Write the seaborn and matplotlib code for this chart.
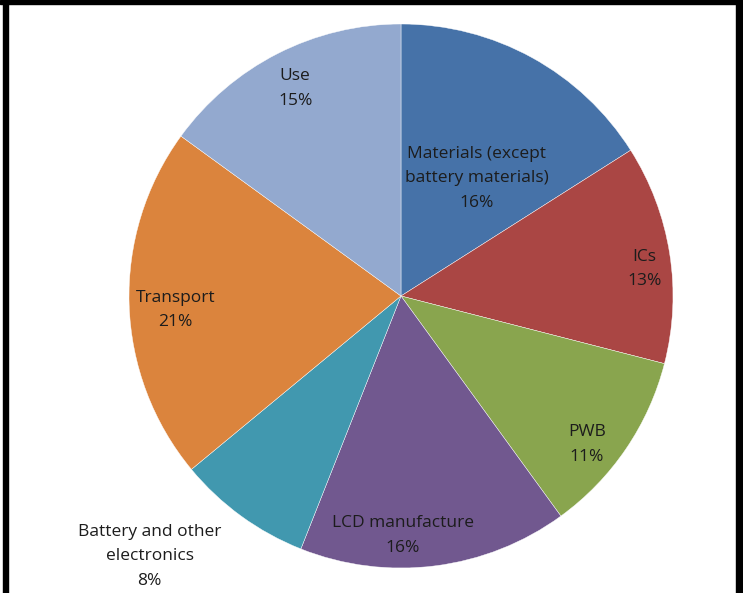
import numpy as np
import matplotlib
matplotlib.use("Agg")
import matplotlib.pyplot as plt
import seaborn as sns
from matplotlib.patches import Rectangle

# Data
categories = ["Materials (except\nbattery materials)", "ICs", "PWB", "LCD manufacture",
              "Battery and other\nelectronics", "Transport", "Use"]
shares = [16, 13, 11, 16, 8, 21, 15]
colors = ["#4672A8", "#AA4644", "#89A54E", "#71588F", "#4198AF", "#DB843D", "#93A9CF"]

# Label placement (fraction of radius, angle nudge in degrees)
label_dist = [0.515, 0.90, 0.875, 0.88, 1.33, 0.83, 0.857]
label_nudge = [-4, -2.7, -4.5, -6.7, -8, 1.8, 0]

sns.set_theme(style="white")
plt.rcParams['font.family'] = ['Open Sans', 'DejaVu Sans']

W, H = 743, 593
fig = plt.figure(figsize=(W / 100, H / 100), dpi=100)
ax = fig.add_axes([0, 0, 1, 1])

cx, cy, r = 401, H - 296, 272
wedges, _ = ax.pie(shares, colors=sns.color_palette(colors), startangle=90,
                   counterclock=False, center=(cx, cy), radius=r,
                   wedgeprops=dict(edgecolor="white", linewidth=0.3, alpha=1))

ax.set_xlim(0, W)
ax.set_ylim(0, H)
ax.set_aspect("equal")
ax.axis("off")

# Labels inside / outside slices
for w, lab, val, d, nud in zip(wedges, categories, shares, label_dist, label_nudge):
    mid = np.deg2rad((w.theta1 + w.theta2) / 2 + nud)
    x = cx + d * r * np.cos(mid)
    y = cy + d * r * np.sin(mid)
    ax.text(x, y, f"{lab}\n{val}%", ha="center", va="center",
            fontsize=12.5, color="#1c1c1c", linespacing=1.72)

# Black frame (top, left, right)
fig.patches.append(Rectangle((0, 1 - 4 / H), 1, 4 / H, transform=fig.transFigure,
                             color="black", zorder=10))
fig.patches.append(Rectangle((3 / W, 0), 5 / W, 1, transform=fig.transFigure,
                             color="black", zorder=10))
fig.patches.append(Rectangle((736 / W, 0), 7 / W, 1, transform=fig.transFigure,
                             color="black", zorder=10))

fig.savefig("out.png", dpi=100)
